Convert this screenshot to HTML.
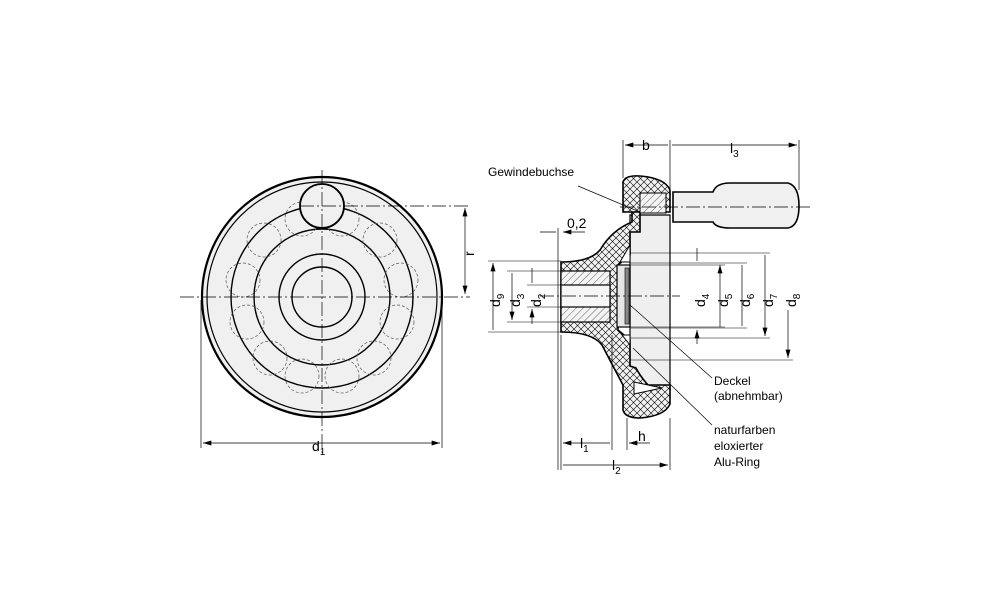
<!DOCTYPE html>
<html><head><meta charset="utf-8"><style>html,body{margin:0;padding:0;background:#fff}svg{display:block}text{font-family:"Liberation Sans",sans-serif;fill:#000}</style></head><body>
<svg width="1000" height="611" viewBox="0 0 1000 611" xmlns="http://www.w3.org/2000/svg">
<defs>
<pattern id="x" width="7" height="7" patternUnits="userSpaceOnUse"><rect width="7" height="7" fill="#f2f2f2"/><path d="M0 0L7 7M7 0L0 7" stroke="#000" stroke-width="0.6"/></pattern>
<pattern id="d" width="5" height="5" patternUnits="userSpaceOnUse" patternTransform="rotate(45)"><rect width="5" height="5" fill="#f4f4f4"/><path d="M0 0V5" stroke="#000" stroke-width="0.6"/></pattern>
<marker id="a" viewBox="0 0 10 6" refX="10" refY="3" markerWidth="9" markerHeight="5" orient="auto-start-reverse" markerUnits="userSpaceOnUse"><path d="M0 0L10 3L0 6z" fill="#000"/></marker>
</defs>
<g fill="none" stroke="#000">
<circle cx="322" cy="297" r="120" fill="#f0f0f0" stroke-width="2.2"/>
<circle cx="322" cy="297" r="115" stroke-width="1.2"/>
<circle cx="322" cy="297" r="91" stroke-width="1.4"/>
<circle cx="322" cy="297" r="68" stroke-width="1.4"/>
<circle cx="322" cy="297" r="43" stroke-width="1.4"/>
<circle cx="322" cy="297" r="30" stroke-width="1.4"/>
<g stroke-dasharray="3,2" stroke-width="0.7" stroke="#555">
<circle cx="342" cy="219" r="17"/><circle cx="302" cy="219" r="17"/>
<circle cx="380" cy="240" r="17"/><circle cx="264" cy="240" r="17"/>
<circle cx="401" cy="280" r="17"/><circle cx="243" cy="280" r="17"/>
<circle cx="397" cy="322" r="17"/><circle cx="247" cy="322" r="17"/>
<circle cx="374" cy="358" r="17"/><circle cx="270" cy="358" r="17"/>
<circle cx="342" cy="376" r="17"/><circle cx="302" cy="376" r="17"/>
</g>
<circle cx="322" cy="206" r="22" fill="#f0f0f0" stroke-width="1.8"/>
<g stroke-width="0.7" stroke-dasharray="14,3,2,3">
<path d="M180 297H470M322 170V455M300 206H470"/>
</g>
<path d="M201 300V448M442 300V448" stroke-width="0.7"/>
<path d="M203 443H440" stroke-width="0.7" marker-start="url(#a)" marker-end="url(#a)"/>
<path d="M465 208V294" stroke-width="0.7" marker-start="url(#a)" marker-end="url(#a)"/>
<!-- right section -->
<path d="M630 215H670V390H630Z" fill="#efefef" stroke-width="1.2"/>
<path d="M623 182Q625 175 640 176Q665 178 670 190V212H632V222Q612 230 600 250Q590 262 561 262V332Q592 332 602 345Q615 370 623 385V410Q625 418 640 418Q665 416 670 404V385H648Q640 376 636 368L630 366V340L618 330V265L630 255V232H640V212H623Z" fill="url(#x)" stroke-width="1.6"/>
<path d="M634 382L662 388L634 394Z" fill="#fff" stroke-width="1"/>
<path d="M630 245L620 262L630 262Z M630 345L622 335L630 335Z" fill="#fff" stroke-width="1"/>
<rect x="561" y="271" width="49" height="51" fill="url(#d)" stroke-width="1.2"/>
<rect x="561" y="285" width="49" height="22" fill="#f6f6f6" stroke-width="1.2"/>
<rect x="617" y="265" width="13" height="62" fill="#e6e6e6" stroke-width="1.2"/>
<rect x="625" y="268" width="4" height="56" fill="#888" stroke-width="0.6"/>
<rect x="640" y="193" width="26" height="20" fill="url(#d)" stroke-width="1"/>
<path d="M673 192H713Q716 183 730 183H788Q799 186 799 206Q799 226 788 228H730Q716 228 713 222H673Z" fill="#f0f0f0" stroke-width="1.6"/>
<g stroke-width="0.7" stroke-dasharray="14,3,2,3"><path d="M540 296H680M620 207H810"/></g>
<path d="M623 140V178M670 140V190M799 140V190M558 228V470M561 335V470M612 335V450M627 418V450M670 418V470" stroke-width="0.7"/>
<path d="M625 145H668M672 145H797" stroke-width="0.7" marker-start="url(#a)" marker-end="url(#a)"/>
<path d="M540 232H556M585 232H563" stroke-width="0.7" marker-end="url(#a)"/>
<path d="M563 443H610M563 465H668" stroke-width="0.7" marker-start="url(#a)" marker-end="url(#a)"/>
<path d="M650 443H629" stroke-width="0.7" marker-end="url(#a)"/>
<path d="M488 261H561M488 332H561M507 271H561M507 322H561M527 285H561M527 307H561" stroke-width="0.6"/>
<path d="M493 263V330M512 273V320" stroke-width="0.7" marker-start="url(#a)" marker-end="url(#a)"/>
<path d="M532 268V283M532 324V309" stroke-width="0.7" marker-end="url(#a)"/>
<path d="M630 263H702M630 328H702M630 265H725M630 327H725M630 263H747M630 328H747M630 253H770M630 338H770M630 360H793" stroke-width="0.6"/>
<path d="M697 248V261M697 344V330" stroke-width="0.7" marker-end="url(#a)"/>
<path d="M720 265V327M742 265V326M765 255V336" stroke-width="0.7" marker-start="url(#a)" marker-end="url(#a)"/>
<path d="M788 310V358" stroke-width="0.7" marker-end="url(#a)"/>
<path d="M578 186L640 212M630 305L712 378M633 348L712 425" stroke-width="0.7"/>
</g>
<g font-size="14">
<text x="312" y="451">d<tspan font-size="10" dy="4">1</tspan></text>
<text transform="translate(474 256) rotate(-90)">r</text>
<text x="642" y="150">b</text>
<text x="730" y="153">l<tspan font-size="10" dy="4">3</tspan></text>
<text x="567" y="228">0,2</text>
<text x="580" y="448">l<tspan font-size="10" dy="4">1</tspan></text>
<text x="638" y="441">h</text>
<text x="612" y="470">l<tspan font-size="10" dy="4">2</tspan></text>
<text transform="translate(500 307) rotate(-90)">d<tspan font-size="10" dy="4">9</tspan></text>
<text transform="translate(520 307) rotate(-90)">d<tspan font-size="10" dy="4">3</tspan></text>
<text transform="translate(541 307) rotate(-90)">d<tspan font-size="10" dy="4">2</tspan></text>
<text transform="translate(705 307) rotate(-90)">d<tspan font-size="10" dy="4">4</tspan></text>
<text transform="translate(728 307) rotate(-90)">d<tspan font-size="10" dy="4">5</tspan></text>
<text transform="translate(750 307) rotate(-90)">d<tspan font-size="10" dy="4">6</tspan></text>
<text transform="translate(773 307) rotate(-90)">d<tspan font-size="10" dy="4">7</tspan></text>
<text transform="translate(796 307) rotate(-90)">d<tspan font-size="10" dy="4">8</tspan></text>
</g>
<g font-size="12">
<text x="488" y="176">Gewindebuchse</text>
<text x="714" y="385">Deckel</text>
<text x="714" y="400">(abnehmbar)</text>
<text x="714" y="434">naturfarben</text>
<text x="714" y="450">eloxierter</text>
<text x="714" y="466">Alu-Ring</text>
</g>
</svg>
</body></html>
